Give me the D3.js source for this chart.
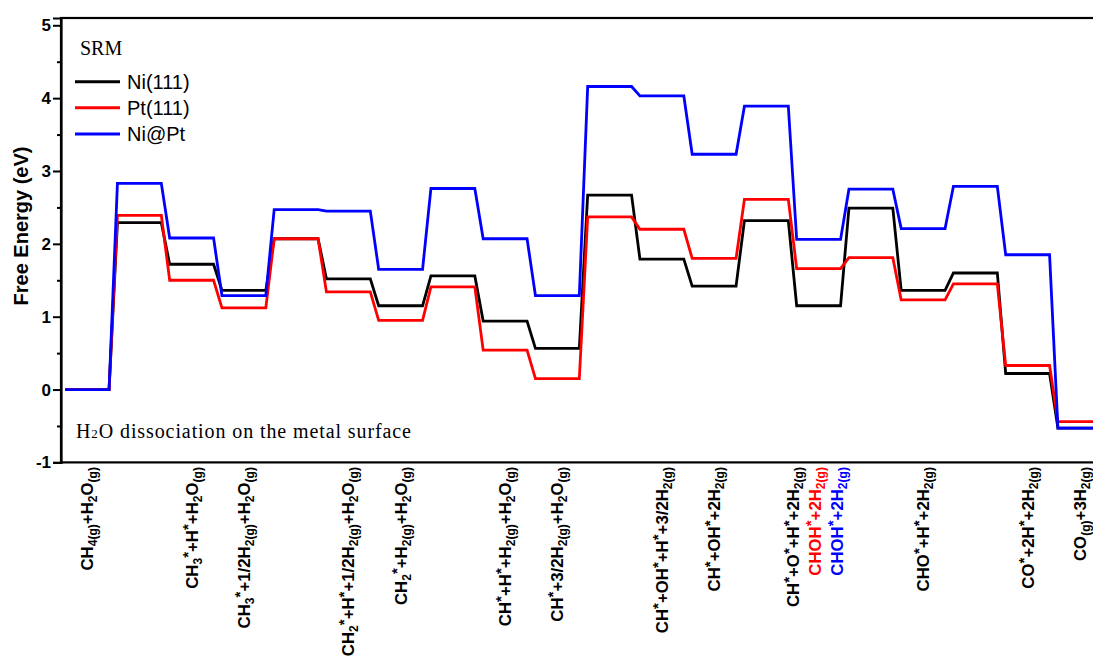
<!DOCTYPE html>
<html>
<head>
<meta charset="utf-8">
<script src="https://cdn.jsdelivr.net/npm/d3@7"></script>
<style>
  html, body { margin: 0; padding: 0; background: #fff; }
  svg { display: block; }
</style>
</head>
<body>
<svg id="chart" width="1093" height="656"></svg>
<script>
// ---------- data ----------
const seriesNames = ["Ni(111)", "Pt(111)", "Ni@Pt"];
const niVals   = [0, 2.29, 1.72, 1.36, 2.07, 1.52, 1.15, 1.56, 0.94, 0.565, 2.67, 1.79, 1.42, 2.32, 1.15, 2.49, 1.36, 1.60, 0.22, -0.53];
const ptVals   = [0, 2.39, 1.50, 1.12, 2.07, 1.34, 0.95, 1.41, 0.54, 0.15, 2.37, 2.20, 1.80, 2.61, 1.66, 1.81, 1.23, 1.45, 0.33, -0.44];
const niptVals = [0, 2.83, 2.08, 1.29, 2.47, 2.45, 1.65, 2.76, 2.07, 1.29, 4.16, 4.03, 3.23, 3.89, 2.06, 2.75, 2.21, 2.79, 1.85, -0.53];
const yTicks = [-1, 0, 1, 2, 3, 4, 5];
const yMinorTicks = [-0.5, 0.5, 1.5, 2.5, 3.5, 4.5];
const labelPos = [0, 2, 3, 5, 6, 8, 9, 11, 12, 13.5, 13.93, 14.35, 16, 18, 19];
const labelText = [
  "CH_{4(g)}+H_{2}O_{(g)}",
  "CH_{3}^{*}+H^{*}+H_{2}O_{(g)}",
  "CH_{3}^{*}+1/2H_{2(g)}+H_{2}O_{(g)}",
  "CH_{2}^{*}+H^{*}+1/2H_{2(g)}+H_{2}O_{(g)}",
  "CH_{2}^{*}+H_{2(g)}+H_{2}O_{(g)}",
  "CH^{*}+H^{*}+H_{2(g)}+H_{2}O_{(g)}",
  "CH^{*}+3/2H_{2(g)}+H_{2}O_{(g)}",
  "CH^{*}+OH^{*}+H^{*}+3/2H_{2(g)}",
  "CH^{*}+OH^{*}+2H_{2(g)}",
  "CH^{*}+O^{*}+H^{*}+2H_{2(g)}",
  "CHOH^{*}+2H_{2(g)}",
  "CHOH^{*}+2H_{2(g)}",
  "CHO^{*}+H^{*}+2H_{2(g)}",
  "CO^{*}+2H^{*}+2H_{2(g)}",
  "CO_{(g)}+3H_{2(g)}"
];
const labelSeries = [0, 0, 0, 0, 0, 0, 0, 0, 0, 0, 1, 2, 0, 0, 0];

// ---------- styles ----------
const colors = ["#000000", "#ff0000", "#0000ff"];
const sans = "'Liberation Sans', Arial, sans-serif";
const serif = "'Liberation Serif', 'Times New Roman', serif";
const halfW = 0.42;

const svg = d3.select("#chart");
const x = d3.scaleLinear().domain([-0.5, 19.5]).range([61, 1106]);
const y = d3.scaleLinear().domain([-1, 5.1]).range([462.4, 18]);

// frame
svg.append("rect")
  .attr("x", x(-0.5)).attr("y", y(5.1))
  .attr("width", x(19.5) - x(-0.5)).attr("height", y(-1) - y(5.1))
  .attr("fill", "none").attr("stroke", "#000").attr("stroke-width", 2.2);

// y axis
const yAxis = d3.axisLeft(y).tickValues(yTicks).tickSize(8).tickPadding(2).tickFormat(d => String(d));
const ga = svg.append("g").attr("transform", `translate(${x(-0.5)},0)`).call(yAxis);
ga.select(".domain").attr("stroke-width", 2.2);
ga.selectAll(".tick line").attr("stroke-width", 2);
ga.selectAll(".tick text").attr("font-family", sans).attr("font-weight", "bold").attr("font-size", 17).attr("fill", "#000");
const gm = svg.append("g").attr("transform", `translate(${x(-0.5)},0)`)
  .call(d3.axisLeft(y).tickValues(yMinorTicks).tickSize(4).tickFormat(""));
gm.select(".domain").remove();
gm.selectAll(".tick line").attr("stroke-width", 2);

svg.append("text")
  .attr("transform", `translate(28,226) rotate(-90)`)
  .attr("text-anchor", "middle")
  .attr("font-family", sans).attr("font-weight", "bold").attr("font-size", 20)
  .text("Free Energy (eV)");

// lines
const line = d3.line().x(d => x(d[0])).y(d => y(d[1])).curve(d3.curveLinear);
const allSeries = [niVals, ptVals, niptVals];
allSeries.forEach((vals, s) => {
  const pts = [];
  vals.forEach((v, i) => { pts.push([i - halfW, v]); pts.push([i + halfW, v]); });
  svg.append("path").attr("d", line(pts))
    .attr("fill", "none").attr("stroke", colors[s]).attr("stroke-width", 2.8)
    .attr("stroke-linejoin", "miter");
});

// legend
svg.append("text").attr("x", 80).attr("y", 55)
  .attr("font-family", serif).attr("font-size", 20).text("SRM");
const legY = [81.7, 107.7, 134];
seriesNames.forEach((n, s) => {
  svg.append("line").attr("x1", 75).attr("x2", 120).attr("y1", legY[s]).attr("y2", legY[s])
    .attr("stroke", colors[s]).attr("stroke-width", 3);
  svg.append("text").attr("x", 127).attr("y", legY[s]).attr("dy", "0.36em")
    .attr("font-family", sans).attr("font-size", 20).text(n);
});

// annotation
const ann = svg.append("text").attr("x", 76).attr("y", 438)
  .attr("font-family", serif).attr("font-size", 20).attr("letter-spacing", 0.9);
ann.append("tspan").text("H");
ann.append("tspan").attr("font-size", 13).text("2");
ann.append("tspan").text("O dissociation on the metal surface");

// x labels
function addRich(textSel, str) {
  const re = /([_^])\{([^}]*)\}|([^_^]+)/g;
  let m;
  while ((m = re.exec(str)) !== null) {
    if (m[3] !== undefined) {
      textSel.append("tspan").text(m[3]);
    } else if (m[1] === "_") {
      textSel.append("tspan").attr("font-size", "0.72em").attr("baseline-shift", "-0.3em").text(m[2]);
    } else {
      textSel.append("tspan").attr("font-size", "0.9em").attr("baseline-shift", "0.3em").text(m[2]);
    }
  }
}
labelText.forEach((t, k) => {
  const tx = svg.append("text")
    .attr("transform", `translate(${x(labelPos[k])},467) rotate(-90)`)
    .attr("text-anchor", "end").attr("dy", "0.36em")
    .attr("font-family", sans).attr("font-weight", "bold").attr("font-size", 16.8)
    .attr("fill", colors[labelSeries[k]]);
  addRich(tx, t);
});
</script>
</body>
</html>
